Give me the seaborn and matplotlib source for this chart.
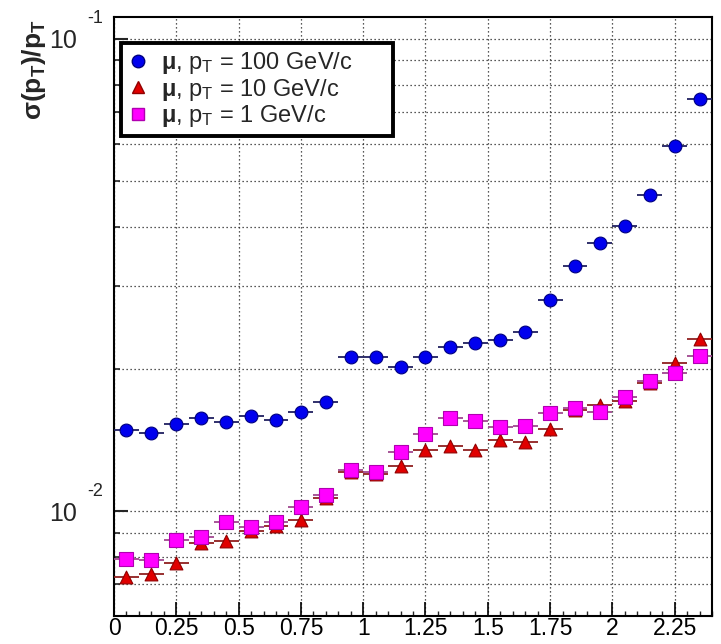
import numpy as np
import pandas as pd
import matplotlib
matplotlib.use("Agg")
import matplotlib.pyplot as plt
import seaborn as sns
from matplotlib.ticker import FixedLocator, MultipleLocator, NullFormatter, FixedFormatter
from matplotlib.lines import Line2D

# |eta| bin centres and relative pT resolution for single muons
eta = [0.05, 0.15, 0.25, 0.35, 0.45, 0.55, 0.65, 0.75, 0.85, 0.95, 1.05, 1.15,
       1.25, 1.35, 1.45, 1.55, 1.65, 1.75, 1.85, 1.95, 2.05, 2.15, 2.25, 2.35]
eta_half_width = 0.05

sigma_pt100 = [0.01485, 0.01463, 0.01529, 0.01574, 0.01544, 0.01589, 0.01559, 0.01621,
               0.01702, 0.02120, 0.02120, 0.02020, 0.02120, 0.02226, 0.02270, 0.02303,
               0.02394, 0.02800, 0.03300, 0.03696, 0.04017, 0.04672, 0.05930, 0.07460]
sigma_pt10 = [0.00725, 0.00736, 0.00776, 0.00856, 0.00864, 0.00907, 0.00929, 0.00957,
              0.01065, 0.01209, 0.01198, 0.01245, 0.01346, 0.01373, 0.01346, 0.01414,
              0.01400, 0.01492, 0.01637, 0.01677, 0.01710, 0.01867, 0.02059, 0.02314]
sigma_pt1 = [0.00791, 0.00787, 0.00868, 0.00881, 0.00948, 0.00925, 0.00948, 0.01020,
             0.01081, 0.01221, 0.01209, 0.01334, 0.01456, 0.01574, 0.01551, 0.01507,
             0.01514, 0.01613, 0.01653, 0.01621, 0.01744, 0.01886, 0.01961, 0.02130]

series_labels = [r"$\mathbf{\mu}$, p$_\mathrm{T}$ = 100 GeV/c",
                 r"$\mathbf{\mu}$, p$_\mathrm{T}$ = 10 GeV/c",
                 r"$\mathbf{\mu}$, p$_\mathrm{T}$ = 1 GeV/c"]

x_tick_values = [0, 0.25, 0.5, 0.75, 1, 1.25, 1.5, 1.75, 2, 2.25]
x_tick_labels = ["0", "0.25", "0.5", "0.75", "1", "1.25", "1.5", "1.75", "2", "2.25"]
y_major_values = [0.01, 0.1]
y_major_exponents = ["-2", "-1"]

styles = [
    dict(face="#0000ee", edge="#000080", bar="#202060", marker="o", s=85),
    dict(face="#e00000", edge="#900000", bar="#902020", marker="^", s=85),
    dict(face="#ff00ff", edge="#b000b0", bar="#a04890", marker="s", s=100),
]

frames = []
for lab, vals in zip(series_labels, [sigma_pt100, sigma_pt10, sigma_pt1]):
    frames.append(pd.DataFrame({"eta": eta, "sigma": vals, "series": lab}))
df = pd.concat(frames, ignore_index=True)

sns.set_theme(style="white")
plt.rcParams["font.family"] = ["Liberation Sans", "DejaVu Sans"]
plt.rcParams["mathtext.fontset"] = "custom"
plt.rcParams["mathtext.rm"] = "Liberation Sans"
plt.rcParams["mathtext.it"] = "Liberation Sans"
plt.rcParams["mathtext.bf"] = "Liberation Sans:bold"

fig = plt.figure(figsize=(7.21, 6.44), dpi=100)
ax = fig.add_axes([114 / 721, 1 - 616 / 644, 598 / 721, 599 / 644])

ax.set_yscale("log")
ax.set_xlim(0, 2.4)
ax.set_ylim(0.006, 0.1112)

# horizontal bin-width bars, then the markers on top
for lab, st in zip(series_labels, styles):
    sub = df[df["series"] == lab]
    ax.errorbar(sub["eta"], sub["sigma"], xerr=eta_half_width, fmt="none",
                ecolor=st["bar"], elinewidth=1.3, capsize=0, zorder=3)
for lab, st in zip(series_labels, styles):
    sub = df[df["series"] == lab]
    sns.scatterplot(data=sub, x="eta", y="sigma", ax=ax, marker=st["marker"],
                    s=st["s"], color=st["face"], edgecolor=st["edge"],
                    linewidth=0.8, legend=False, zorder=4)

# axes, ticks and grid
ax.xaxis.set_major_locator(FixedLocator(x_tick_values))
ax.xaxis.set_major_formatter(FixedFormatter(x_tick_labels))
ax.xaxis.set_minor_locator(MultipleLocator(0.05))
ax.yaxis.set_major_locator(FixedLocator(y_major_values))
ax.yaxis.set_major_formatter(FixedFormatter(["10", "10"]))
ax.yaxis.set_minor_locator(FixedLocator([0.007, 0.008, 0.009, 0.02, 0.03, 0.04,
                                         0.05, 0.06, 0.07, 0.08, 0.09]))
ax.yaxis.set_minor_formatter(NullFormatter())

ax.tick_params(axis="x", which="major", direction="in", length=10, width=1.2,
               labelsize=16.5, pad=0.5, colors="black", bottom=True, top=False)
ax.tick_params(axis="x", which="minor", direction="in", length=3.8, width=1.0,
               bottom=True, top=False)
ax.tick_params(axis="y", which="major", direction="in", length=10, width=1.5,
               labelsize=18, pad=26.5, left=True, right=False)
ax.tick_params(axis="y", which="minor", direction="in", length=4.5, width=1.2,
               left=True, right=False)

grid_kw = dict(color="#222222", linestyle=(0, (1, 2.2)), linewidth=0.9)
ax.grid(True, axis="x", which="major", **grid_kw)
ax.grid(True, axis="y", which="both", **grid_kw)
ax.set_axisbelow(True)

for sp in ax.spines.values():
    sp.set_visible(True)
    sp.set_color("black")
    sp.set_linewidth(1.5)

# exponents of the decade labels
for yv, ex in zip(y_major_values, y_major_exponents):
    ax.annotate(ex, xy=(0, yv), xycoords=("axes fraction", "data"),
                xytext=(-19.5, 14.5), textcoords="offset points",
                ha="left", va="center", fontsize=13)

ax.set_xlabel("")
lab = ax.set_ylabel(r"$\mathbf{\sigma(p_T)/p_T}$", fontsize=19)
ax.yaxis.set_label_coords((34 - 114) / 598, (616 - 19) / 599)
lab.set_rotation_mode("default")
lab.set_ha("center")
lab.set_va("top")

handles = [Line2D([], [], linestyle="none", marker=st["marker"], markersize=9,
                  markerfacecolor=st["face"], markeredgecolor=st["edge"])
           for st in styles]
leg = ax.legend(handles, series_labels, loc="upper left",
                bbox_to_anchor=((121 - 114) / 598, (616 - 133) / 599,
                                272 / 598, 90 / 599),
                mode="expand", borderaxespad=0, fontsize=17, frameon=True,
                fancybox=False, edgecolor="black", framealpha=1,
                handlelength=0.8, handletextpad=0.6, labelspacing=0.02,
                borderpad=0.3)
leg.get_frame().set_linewidth(2.8)
leg.set_zorder(10)

fig.savefig("out.png", dpi=100)
